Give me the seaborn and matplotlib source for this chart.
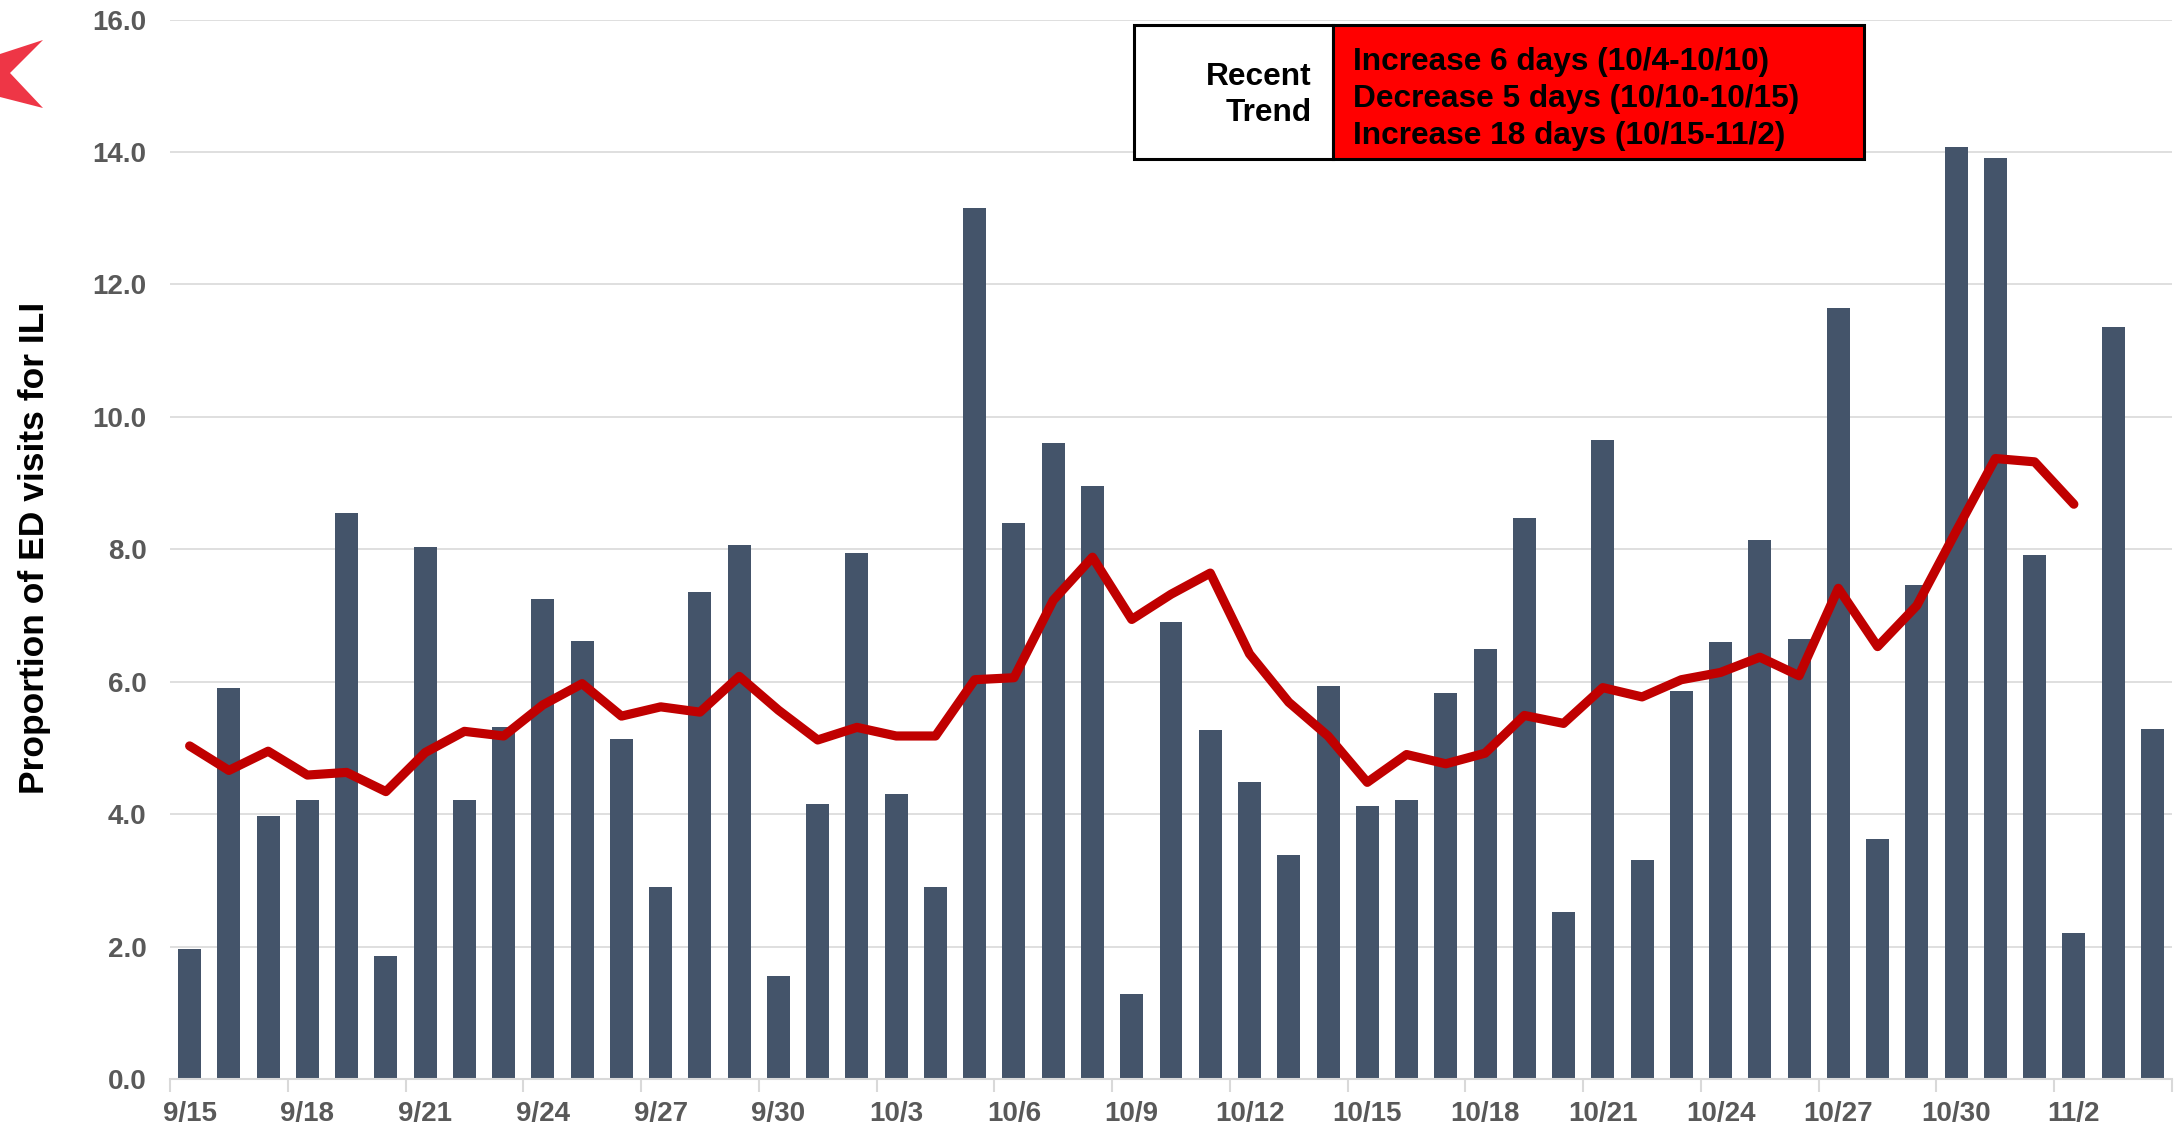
import numpy as np
import pandas as pd
import matplotlib
matplotlib.use("Agg")
import matplotlib.pyplot as plt
from matplotlib.patches import Rectangle, Polygon
import seaborn as sns

# ---------------- data ----------------
dates = ["9/15", "9/16", "9/17", "9/18", "9/19", "9/20", "9/21", "9/22", "9/23", "9/24",
         "9/25", "9/26", "9/27", "9/28", "9/29", "9/30", "10/1", "10/2", "10/3", "10/4",
         "10/5", "10/6", "10/7", "10/8", "10/9", "10/10", "10/11", "10/12", "10/13", "10/14",
         "10/15", "10/16", "10/17", "10/18", "10/19", "10/20", "10/21", "10/22", "10/23", "10/24",
         "10/25", "10/26", "10/27", "10/28", "10/29", "10/30", "10/31", "11/1", "11/2", "11/3",
         "11/4"]

daily_pct = [1.96, 5.90, 3.97, 4.21, 8.55, 1.86, 8.03, 4.22, 5.31, 7.25,
             6.62, 5.14, 2.90, 7.36, 8.07, 1.55, 4.16, 7.95, 4.30, 2.90,
             13.15, 8.40, 9.60, 8.95, 1.29, 6.90, 5.27, 4.48, 3.39, 5.94,
             4.12, 4.21, 5.83, 6.49, 8.47, 2.52, 9.65, 3.30, 5.86, 6.60,
             8.14, 6.64, 11.64, 3.62, 7.46, 14.07, 13.91, 7.91, 2.21, 11.36,
             5.28]

avg_pct = [5.03, 4.66, 4.95, 4.59, 4.63, 4.34, 4.93, 5.25, 5.18, 5.65,
           5.97, 5.48, 5.62, 5.54, 6.08, 5.57, 5.12, 5.31, 5.18, 5.18,
           6.03, 6.06, 7.23, 7.88, 6.94, 7.32, 7.64, 6.42, 5.69, 5.18,
           4.48, 4.90, 4.76, 4.92, 5.49, 5.37, 5.91, 5.77, 6.03, 6.14,
           6.37, 6.09, 7.41, 6.53, 7.15, 8.27, 9.37, 9.32, 8.68]

y_ticks = [0, 2, 4, 6, 8, 10, 12, 14, 16]
trend_label = "Recent\nTrend"
trend_lines = ["Increase 6 days (10/4-10/10)",
               "Decrease 5 days (10/10-10/15)",
               "Increase 18 days (10/15-11/2)"]
y_label = "Proportion of ED visits for ILI"

# ---------------- style ----------------
sns.set_theme(style="white")
plt.rcParams["font.family"] = ["Liberation Sans", "DejaVu Sans"]
plt.rcParams["font.weight"] = "bold"

W, H = 2180, 1127
fig = plt.figure(figsize=(W / 100, H / 100), dpi=100)
fig.patch.set_facecolor("white")

def fx(px):
    return px / W

def fy(py):
    return 1 - py / H

ax_l, ax_r, ax_b, ax_t = 170, 2172, 1079, 19.5
ax = fig.add_axes([fx(ax_l), fy(ax_b), fx(ax_r - ax_l), (ax_b - ax_t) / H])

bars_df = pd.DataFrame({"date": dates, "pct": daily_pct})
line_df = pd.DataFrame({"date": dates[:len(avg_pct)], "avg": avg_pct})

sns.barplot(data=bars_df, x="date", y="pct", order=dates, color="#44546A",
            saturation=1, width=0.585, linewidth=0, ax=ax, zorder=2)
sns.lineplot(data=line_df, x="date", y="avg", sort=False, color="#C00000",
             linewidth=6.6, ax=ax, zorder=3,
             solid_capstyle="round", solid_joinstyle="round")

n = len(dates)
ax.set_xlim(-0.5, n - 0.5)
ax.set_ylim(0, 16)

ax.set_yticks(y_ticks, labels=[f"{v:.1f}" for v in y_ticks])
major = np.arange(-0.5, n, 3)
ax.set_xticks(major, labels=[""] * len(major))
minor = np.arange(0, n, 3)
ax.set_xticks(minor, labels=[dates[i] for i in minor], minor=True)

ax.tick_params(axis="x", which="major", length=9, width=1.5, color="#D9D9D9",
               direction="out", bottom=True)
ax.tick_params(axis="x", which="minor", length=0, pad=16, labelsize=20,
               labelcolor="#595959", bottom=True)
ax.tick_params(axis="y", length=0, pad=17, labelsize=20, labelcolor="#595959")
for lab in ax.get_xticklabels(minor=True) + ax.get_yticklabels():
    lab.set_fontweight("bold")

ax.grid(axis="y", color="#D9D9D9", linewidth=1.2, zorder=0)
ax.grid(axis="x", visible=False)
ax.set_axisbelow(True)
for s in ["top", "left", "right"]:
    ax.spines[s].set_visible(False)
ax.spines["bottom"].set_color("#D9D9D9")
ax.spines["bottom"].set_linewidth(1.5)
ax.set_xlabel("")
ax.set_ylabel("")
if ax.get_legend() is not None:
    ax.get_legend().remove()

fig.text(fx(35), fy(548), y_label, rotation=90, ha="center", va="center",
         fontsize=25.5, fontweight="bold", color="black")

# ---------------- trend box ----------------
bx_l, bx_m, bx_r, bx_t, bx_b = 1134, 1333, 1864, 25, 159
fig.patches.append(Rectangle((fx(bx_l), fy(bx_b)), fx(bx_m - bx_l), (bx_b - bx_t) / H,
                             transform=fig.transFigure, facecolor="white",
                             edgecolor="black", linewidth=2.2, zorder=5))
fig.patches.append(Rectangle((fx(bx_m), fy(bx_b)), fx(bx_r - bx_m), (bx_b - bx_t) / H,
                             transform=fig.transFigure, facecolor="#FF0000",
                             edgecolor="black", linewidth=2.2, zorder=5))
fig.text(fx(1312), fy(95), trend_label, ha="right", va="center", fontsize=22.8,
         fontweight="bold", color="black", linespacing=1.25, zorder=6)
for i, t in enumerate(trend_lines):
    fig.text(fx(1353), fy(70 + 37 * i), t, ha="left", va="baseline", fontsize=22.8,
             fontweight="bold", color="black", zorder=6)

# ---------------- logo fragment ----------------
logo_pts = [(0, 54), (43, 40), (10, 73), (43, 108), (0, 97)]
fig.patches.append(Polygon([(fx(x), fy(y)) for x, y in logo_pts], closed=True,
                           transform=fig.transFigure, facecolor="#EE3646",
                           edgecolor="none", zorder=5))

fig.savefig("out.png", dpi=100, facecolor="white")
